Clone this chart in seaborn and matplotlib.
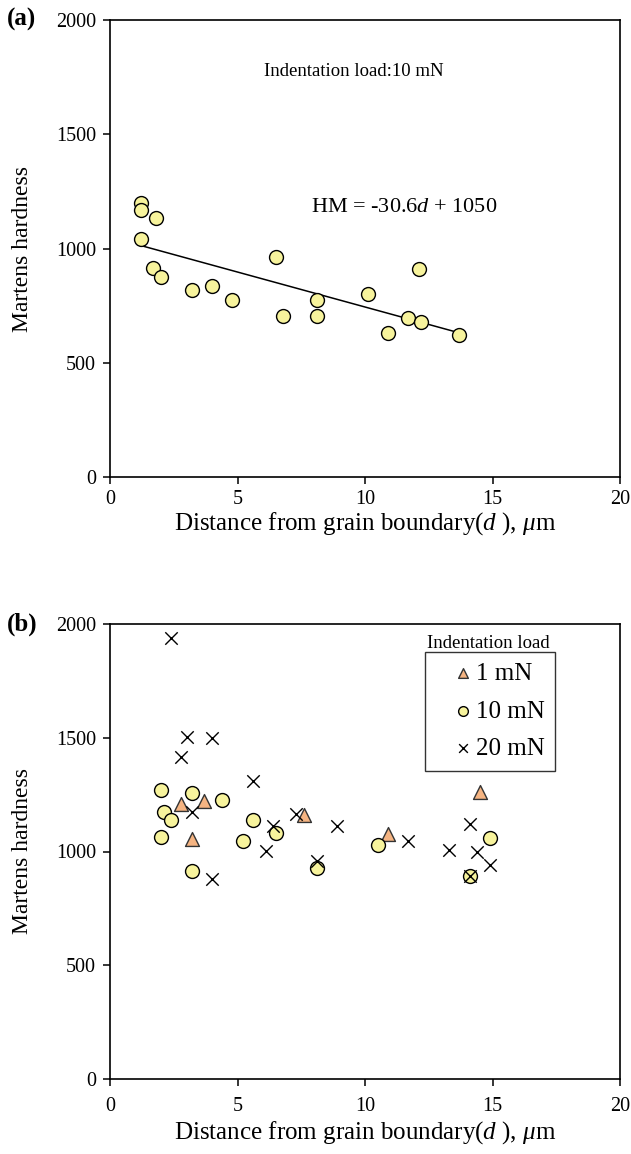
import matplotlib
matplotlib.use("Agg")
import matplotlib.pyplot as plt
import seaborn as sns
import pandas as pd
import numpy as np

sns.set_theme(style="ticks")
plt.rcParams['font.family'] = ['Liberation Serif', 'DejaVu Serif']
plt.rcParams['mathtext.fontset'] = 'custom'
plt.rcParams['mathtext.rm'] = 'Liberation Serif'
plt.rcParams['mathtext.it'] = 'Liberation Serif:italic'
for k in ['text.color', 'axes.labelcolor', 'xtick.color', 'ytick.color', 'axes.edgecolor']:
    plt.rcParams[k] = 'black'

# ---- Panel (a): 10 mN ----
a_d = [1.2, 1.2, 1.8, 1.2, 1.7, 2.0, 3.2, 4.0, 4.8, 6.5, 6.8, 8.1, 8.1, 10.1, 10.9, 11.7, 12.1, 12.2, 13.7]
a_hm = [1197, 1170, 1134, 1043, 914, 877, 818, 838, 773, 962, 704, 774, 704, 801, 631, 697, 912, 678, 622]
fit_slope = -30.6
fit_intercept = 1050
fit_range = [1.2, 13.7]

# ---- Panel (b) ----
b1_d = [2.8, 3.7, 7.6, 3.2, 10.9, 14.5]
b1_hm = [1209, 1221, 1160, 1055, 1077, 1263]

b10_d = [2.0, 3.2, 4.4, 2.1, 2.4, 5.6, 2.0, 5.2, 6.5, 3.2, 8.1, 10.5, 14.9, 14.1]
b10_hm = [1272, 1257, 1228, 1173, 1140, 1137, 1065, 1048, 1083, 915, 927, 1027, 1058, 894]

b20_d = [2.4, 3.0, 4.0, 2.8, 5.6, 3.2, 6.4, 7.3, 6.1, 8.1, 4.0, 8.9, 11.7, 14.1, 13.3, 14.4, 14.9, 14.1]
b20_hm = [1937, 1505, 1499, 1415, 1310, 1174, 1112, 1163, 1002, 958, 877, 1113, 1046, 1121, 1008, 997, 939, 894]

xticks = [0, 5, 10, 15, 20]
yticks = [0, 500, 1000, 1500, 2000]

YELLOW = '#F7F39C'
ORANGE = '#F5B482'

fig = plt.figure(figsize=(6.31, 11.54), dpi=100)
axA = fig.add_axes([110/631, 1-477/1154, 510/631, 457/1154])
axB = fig.add_axes([110/631, 1-1079/1154, 510/631, 455/1154])

TICK_FS = 14.5
XLABEL_FS = 18
YLABEL_FS = 17

def style_axes(ax, height_px, xpad, xlabel_off_px):
    ax.set_xlim(0, 20)
    ax.set_ylim(0, 2000)
    ax.set_xticks(xticks)
    ax.set_yticks(yticks)
    for s in ax.spines.values():
        s.set_visible(True)
        s.set_color('black')
        s.set_linewidth(1.2)
    ax.tick_params(direction='out', length=5, width=1.1, colors='black',
                   labelsize=TICK_FS, pad=5)
    ax.tick_params(axis='x', pad=xpad)
    ax.set_xlabel('Distance from grain boundary($\\mathit{d}$ ), $\\mu$m', fontsize=XLABEL_FS)
    ax.set_ylabel('Martens hardness', fontsize=YLABEL_FS)
    ax.xaxis.set_label_coords(0.5, -xlabel_off_px / height_px)
    ax.xaxis.label.set_verticalalignment('center')
    ax.yaxis.set_label_coords((22.5 - 110) / 510, 0.5)
    ax.yaxis.label.set_verticalalignment('center')
    ax.set_facecolor('white')

# Panel (a)
dfA = pd.DataFrame({'d': a_d, 'hm': a_hm})
fit_x = np.array(fit_range)
dfFit = pd.DataFrame({'d': fit_x, 'hm': fit_slope * fit_x + fit_intercept})
sns.lineplot(data=dfFit, x='d', y='hm', ax=axA, color='black', linewidth=1.1)
sns.scatterplot(data=dfA, x='d', y='hm', ax=axA, marker='o', s=100,
                color=YELLOW, edgecolor='black', linewidth=1.0, zorder=3)
style_axes(axA, 457, 4, 47)
axA.text((354-110)/510, (477-72)/457, 'Indentation load:10 mN', transform=axA.transAxes,
         ha='center', va='center', fontsize=13.5)
axA.text((404-110)/510, (477-207)/457, 'HM = -30.6$\\mathit{d}$ + 1050', transform=axA.transAxes,
         ha='center', va='center', fontsize=16)
fig.text(7/631, 1-19/1154, '(a)', fontsize=18, fontweight='bold', ha='left', va='center')

# Panel (b)
df1 = pd.DataFrame({'d': b1_d, 'hm': b1_hm})
df10 = pd.DataFrame({'d': b10_d, 'hm': b10_hm})
df20 = pd.DataFrame({'d': b20_d, 'hm': b20_hm})
sns.scatterplot(data=df1, x='d', y='hm', ax=axB, marker='^', s=100,
                color=ORANGE, edgecolor='#333333', linewidth=1.0, label='1 mN', zorder=3)
sns.scatterplot(data=df10, x='d', y='hm', ax=axB, marker='o', s=100,
                color=YELLOW, edgecolor='black', linewidth=1.0, label='10 mN', zorder=3)
sns.scatterplot(data=df20, x='d', y='hm', ax=axB, marker='x', s=80,
                color='black', linewidth=1.0, label='20 mN', zorder=4)
style_axes(axB, 455, 8, 54)
leg = axB.legend(loc='upper right', bbox_to_anchor=((555-110)/510, (1079-652)/455),
                 borderaxespad=0, frameon=True, fancybox=False, edgecolor='black',
                 fontsize=18, markerscale=0.7, handletextpad=-0.6, handlelength=2.2,
                 labelspacing=0.6, borderpad=0.42)
leg.get_frame().set_linewidth(1.0)
axB.text((488-110)/510, (1079-644)/455, 'Indentation load', transform=axB.transAxes,
         ha='center', va='center', fontsize=13.5)
fig.text(7/631, 1-624/1154, '(b)', fontsize=18, fontweight='bold', ha='left', va='center')

fig.savefig('out.png', dpi=100, facecolor='white')
